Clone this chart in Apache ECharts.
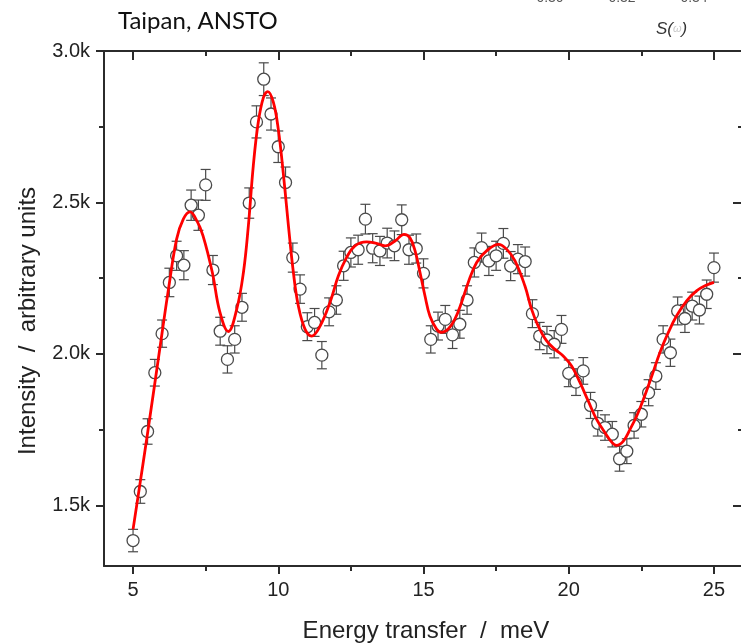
<!DOCTYPE html>
<html>
<head>
<meta charset="utf-8">
<script src="https://cdn.jsdelivr.net/npm/echarts@6/dist/echarts.min.js"></script>
<style>
  html, body { margin: 0; padding: 0; background: #fff; overflow: hidden; }
  #chart { width: 741px; height: 644px; }
</style>
</head>
<body>
<div id="chart"></div>
<script>
// Measured spectrum: energy transfer (meV), counts, and counting errors
const energy = [
  5.00, 5.25, 5.50, 5.75, 6.00, 6.25, 6.50, 6.75, 7.00, 7.25, 7.50, 7.75,
  8.00, 8.25, 8.50, 8.75, 9.00, 9.25, 9.50, 9.75, 10.00, 10.25, 10.50, 10.75,
  11.00, 11.25, 11.50, 11.75, 12.00, 12.25, 12.50, 12.75, 13.00, 13.25, 13.50, 13.75,
  14.00, 14.25, 14.50, 14.75, 15.00, 15.25, 15.50, 15.75, 16.00, 16.25, 16.50, 16.75,
  17.00, 17.25, 17.50, 17.75, 18.00, 18.25, 18.50, 18.75, 19.00, 19.25, 19.50, 19.75,
  20.00, 20.25, 20.50, 20.75, 21.00, 21.25, 21.50, 21.75, 22.00, 22.25, 22.50, 22.75,
  23.00, 23.25, 23.50, 23.75, 24.00, 24.25, 24.50, 24.75, 25.00
];
const intensity = [
  1384, 1546, 1744, 1938, 2067, 2236, 2324, 2293, 2491, 2458, 2558, 2277,
  2075, 1982, 2048, 2154, 2498, 2766, 2907, 2792, 2684, 2566, 2318, 2214,
  2090, 2104, 1996, 2139, 2178, 2291, 2335, 2344, 2445, 2349, 2340, 2366,
  2357, 2443, 2344, 2348, 2266, 2048, 2092, 2114, 2063, 2098, 2178, 2302,
  2351, 2307, 2324, 2365, 2290, 2313, 2305, 2133, 2059, 2046, 2032, 2081,
  1936, 1907, 1944, 1830, 1771, 1757, 1735, 1654, 1679, 1764, 1801, 1872,
  1927, 2048, 2004, 2142, 2117, 2158, 2145, 2197, 2285
];
const errors = [
  37, 39, 42, 44, 45, 47, 48, 48, 50, 50, 51, 48,
  46, 45, 45, 46, 50, 53, 54, 53, 52, 51, 48, 47,
  46, 46, 45, 46, 47, 48, 48, 48, 49, 48, 48, 49,
  49, 49, 48, 48, 48, 45, 46, 46, 45, 46, 47, 48,
  48, 48, 48, 49, 48, 48, 48, 46, 45, 45, 45, 46,
  44, 44, 44, 43, 42, 42, 42, 41, 41, 42, 42, 43,
  44, 45, 45, 46, 46, 46, 46, 47, 48
];

// Model fit curve
const fitEnergy = [
  5.00, 5.50, 6.00, 6.22, 6.50, 6.73, 6.96, 7.20, 7.41, 7.73, 7.99, 8.28,
  8.57, 8.80, 8.97, 9.14, 9.31, 9.49, 9.64, 9.83, 10.00, 10.17, 10.35, 10.52,
  10.69, 10.92, 11.15, 11.44, 11.78, 12.07, 12.35, 12.64, 13.04, 13.38, 13.68, 14.02,
  14.33, 14.53, 14.71, 14.88, 15.05, 15.22, 15.45, 15.62, 15.85, 16.08, 16.31, 16.54,
  16.83, 17.17, 17.58, 17.86, 18.15, 18.49, 18.72, 18.95, 19.24, 19.53, 19.81, 20.10,
  20.39, 20.67, 20.96, 21.25, 21.48, 21.65, 21.88, 22.11, 22.34, 22.57, 22.86, 23.14,
  23.43, 23.71, 24.06, 24.40, 24.69, 25.00
];
const fitIntensity = [
  1421, 1738, 2070, 2214, 2379, 2445, 2469, 2439, 2390, 2269, 2138, 2074,
  2148, 2269, 2423, 2621, 2764, 2847, 2866, 2831, 2742, 2599, 2423, 2269,
  2159, 2082, 2059, 2092, 2170, 2258, 2318, 2357, 2370, 2365, 2357, 2373,
  2395, 2384, 2340, 2269, 2192, 2125, 2082, 2071, 2082, 2115, 2170, 2236,
  2302, 2340, 2362, 2346, 2307, 2225, 2148, 2092, 2043, 2015, 1993, 1960,
  1905, 1845, 1784, 1740, 1709, 1698, 1712, 1751, 1795, 1850, 1927, 2005,
  2071, 2125, 2175, 2208, 2225, 2236
];

// Axis ticks
const xMajorTicks = [5, 10, 15, 20, 25];
const xMinorTicks = [7.5, 12.5, 17.5, 22.5];
const yMajorTicks = [1500, 2000, 2500, 3000];
const yMinorTicks = [1750, 2250, 2750];

const points = energy.map((e, i) => [e, intensity[i], errors[i]]);
const fit = fitEnergy.map((e, i) => [e, fitIntensity[i]]);

const axisColor = '#2b2b2b';
const labelFont = 'Liberation Sans, Arial, sans-serif';

function xAxisDef(position, ticks, len, inside, withLine, withLabel) {
  return {
    type: 'value', position: position, min: 4, max: 26,
    axisLine: { show: withLine, onZero: false, lineStyle: { color: axisColor, width: 2 } },
    axisTick: { show: true, customValues: ticks, length: len, inside: inside,
                lineStyle: { color: axisColor, width: 2 } },
    axisLabel: withLabel
      ? { show: true, customValues: ticks, margin: 14, fontSize: 20,
          fontFamily: labelFont, color: '#222' }
      : { show: false },
    splitLine: { show: false }
  };
}
function yAxisDef(position, ticks, len, inside, withLine, withLabel) {
  return {
    type: 'value', position: position, min: 1300, max: 3000,
    axisLine: { show: withLine, onZero: false, lineStyle: { color: axisColor, width: 2 } },
    axisTick: { show: true, customValues: ticks, length: len, inside: inside,
                lineStyle: { color: axisColor, width: 2 } },
    axisLabel: withLabel
      ? { show: true, customValues: ticks, margin: 14, fontSize: 20,
          fontFamily: labelFont, color: '#222',
          formatter: v => (v / 1000).toFixed(1) + 'k' }
      : { show: false },
    splitLine: { show: false }
  };
}

const chart = echarts.init(document.getElementById('chart'), null, { renderer: 'canvas' });

chart.setOption({
  animation: false,
  backgroundColor: '#fff',
  // the frame runs a little past the right edge of the page
  grid: { left: 104, width: 639, top: 51, height: 515, containLabel: false,
          outerBoundsMode: 'none' },
  xAxis: [
    xAxisDef('bottom', xMajorTicks, 8, false, true, true),
    xAxisDef('bottom', xMinorTicks, 5, false, false, false),
    xAxisDef('top', xMajorTicks, 9, true, true, false),
    xAxisDef('top', xMinorTicks, 5, true, false, false)
  ],
  yAxis: [
    yAxisDef('left', yMajorTicks, 8, false, true, true),
    yAxisDef('left', yMinorTicks, 5, false, false, false),
    yAxisDef('right', yMajorTicks, 10, true, true, false),
    yAxisDef('right', yMinorTicks, 5, true, false, false)
  ],
  graphic: [
    { type: 'text', left: 118, top: 9,
      style: { text: 'Taipan, ANSTO', font: '24px Lato, "Open Sans", sans-serif', fill: '#111' } },
    { type: 'text', x: 28, y: 321, rotation: Math.PI / 2,
      style: { text: 'Intensity  /  arbitrary units', font: '24px "Liberation Sans", Arial, sans-serif',
               fill: '#222', align: 'center', verticalAlign: 'middle' } },
    { type: 'text', x: 426, y: 631,
      style: { text: 'Energy transfer  /  meV', font: '24px "Liberation Sans", Arial, sans-serif',
               fill: '#222', align: 'center', verticalAlign: 'middle' } },
    // tick values of the small panel above, mostly outside the page
    { type: 'text', x: 550, y: 5,
      style: { text: '0.30', font: '14px "Liberation Sans", Arial, sans-serif', fill: '#555',
               align: 'center', verticalAlign: 'bottom' } },
    { type: 'text', x: 622, y: 5,
      style: { text: '0.32', font: '14px "Liberation Sans", Arial, sans-serif', fill: '#555',
               align: 'center', verticalAlign: 'bottom' } },
    { type: 'text', x: 694, y: 5,
      style: { text: '0.34', font: '14px "Liberation Sans", Arial, sans-serif', fill: '#555',
               align: 'center', verticalAlign: 'bottom' } },
    { type: 'text', x: 656, y: 29,
      style: {
        text: '{a|S(}{b|ω}{a|)}', verticalAlign: 'middle',
        rich: {
          a: { font: 'italic 17px "Liberation Sans", Arial, sans-serif', fill: '#333' },
          b: { font: 'italic 11px "Liberation Sans", Arial, sans-serif', fill: '#c8c8c8' }
        }
      } }
  ],
  series: [
    {
      name: 'errors', type: 'custom', xAxisIndex: 0, yAxisIndex: 0, z: 2,
      data: points,
      encode: { x: 0, y: 1 },
      renderItem: function (params, api) {
        const x = api.value(0), y = api.value(1), e = api.value(2);
        const hi = api.coord([x, y + e]);
        const lo = api.coord([x, y - e]);
        const hw = 5;
        const st = { stroke: '#4a4a4a', lineWidth: 1.2 };
        return {
          type: 'group',
          children: [
            { type: 'line', shape: { x1: hi[0], y1: hi[1], x2: lo[0], y2: lo[1] }, style: st },
            { type: 'line', shape: { x1: hi[0] - hw, y1: hi[1], x2: hi[0] + hw, y2: hi[1] }, style: st },
            { type: 'line', shape: { x1: lo[0] - hw, y1: lo[1], x2: lo[0] + hw, y2: lo[1] }, style: st }
          ]
        };
      }
    },
    {
      name: 'data', type: 'scatter', xAxisIndex: 0, yAxisIndex: 0, z: 3,
      data: points.map(p => [p[0], p[1]]),
      symbol: 'circle', symbolSize: 12,
      itemStyle: { color: '#fff', borderColor: '#4a4a4a', borderWidth: 1.3, opacity: 1 }
    },
    {
      name: 'fit', type: 'line', xAxisIndex: 0, yAxisIndex: 0, z: 4,
      data: fit, smooth: 0.4, showSymbol: false, symbol: 'none',
      lineStyle: { color: '#ff0000', width: 2.8 }
    }
  ]
});
</script>
</body>
</html>
